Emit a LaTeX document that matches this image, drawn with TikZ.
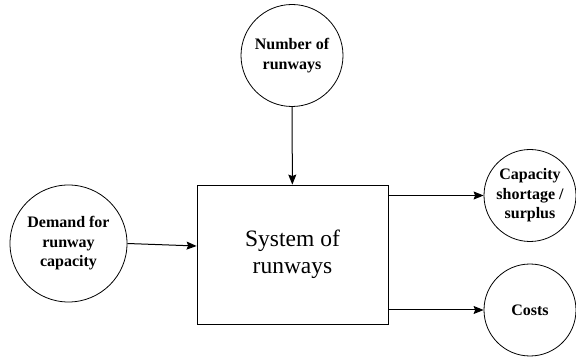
\documentclass[tikz,border=0pt]{standalone}
\usepackage{fontspec}
\setmainfont{Liberation Serif}
\usetikzlibrary{arrows.meta}

\begin{document}
\begin{tikzpicture}[x=1pt, y=-1pt, >={Stealth[inset=1.5pt,length=10pt,width=8pt]},
    every node/.style={align=center, inner sep=0pt},
    factor/.style={draw, circle, line width=0.8pt, font=\fontsize{16}{19.5}\selectfont\bfseries},
    flow/.style={black, line width=1pt, ->}]
    \useasboundingbox (0, 0) rectangle (576, 358);
    % inputs and outputs
    \node[factor, minimum size=102] (runways) at (292, 55.5) {Number of\\runways};
    \node[factor, minimum size=117] (demand) at (68.5, 243.5) {Demand for\\runway\\capacity};
    \node[factor, minimum size=92] (capacity) at (530, 195.5) {Capacity\\shortage /\\surplus};
    \node[factor, minimum size=92] (costs) at (530, 310) {Costs};

    % the system
    \node[draw, line width=0.8pt, minimum width=191, minimum height=139, font=\fontsize{23.5}{27}\selectfont] (system) at (292.5, 254.5) {System of\\runways};

    \draw[flow] (runways) -- (system);
    \draw[flow] (demand.east) -- ([yshift=8.5pt]system.west);
    \draw[flow] (capacity.west -| system.east) -- (capacity.west);
    \draw[flow] (costs.west -| system.east) -- (costs.west);
\end{tikzpicture}
\end{document}
